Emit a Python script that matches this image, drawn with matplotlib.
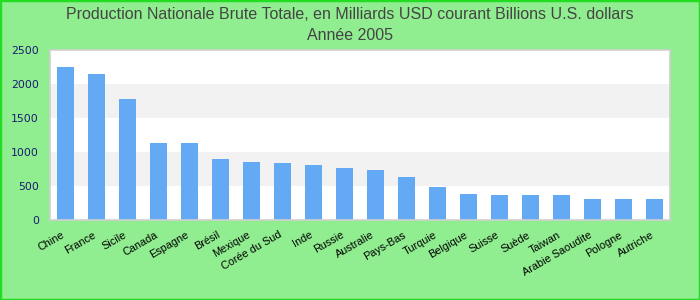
import matplotlib
matplotlib.use("Agg")
import matplotlib.pyplot as plt
import matplotlib.transforms as mtransforms
from matplotlib.patches import Rectangle

countries = ["Chine", "France", "Sicile", "Canada", "Espagne", "Brésil", "Mexique",
             "Corée du Sud", "Inde", "Russie", "Australie", "Pays-Bas", "Turquie",
             "Belgique", "Suisse", "Suède", "Taiwan", "Arabie Saoudite", "Pologne", "Autriche"]
values = [2250, 2150, 1780, 1130, 1130, 900, 850, 840, 810, 765, 735, 632, 485,
          382, 368, 368, 368, 309, 309, 309]
yticks = [0, 500, 1000, 1500, 2000, 2500]
title = "Production Nationale Brute Totale, en Milliards USD courant Billions U.S. dollars\nAnnée 2005"

fig = plt.figure(figsize=(7, 3), dpi=100, facecolor="#90ee90")
fig.patches.append(Rectangle((0, 0), 1, 1, transform=fig.transFigure, fill=False,
                             edgecolor="#22dd22", linewidth=2.5, zorder=10))
ax = fig.add_axes([50/700, 80/300, 620/700, 170/300])
ax.set_facecolor("white")
for lo, hi in [(500, 1000), (1500, 2000)]:
    ax.axhspan(lo, hi, color="#f2f2f2", zorder=0, linewidth=0)

x = range(len(countries))
ax.bar(x, values, width=0.55, color="#63a9f4", zorder=2)
ax.set_xlim(-0.5, len(countries) - 0.5)
ax.set_ylim(0, 2500)
ax.set_yticks(yticks)
ax.set_yticklabels([str(v) for v in yticks], color="#191970", fontsize=7.8)
ax.tick_params(axis="y", length=0, pad=8)
ax.set_xticks(list(x))
ax.set_xticklabels(countries, rotation=30, ha="right", rotation_mode="anchor",
                   fontsize=7.8, family="Liberation Sans", color="black")
ax.tick_params(axis="x", length=0, pad=7)
offset = mtransforms.ScaledTranslation(-4/100, 0, fig.dpi_scale_trans)
for lbl in ax.get_xticklabels():
    lbl.set_transform(lbl.get_transform() + offset)
for s in ax.spines.values():
    s.set_color("#d0d0d0")
    s.set_linewidth(1.2)

fig.text(0.5, 1 - 25/300, title, ha="center", va="center", fontsize=11.5,
         family="Liberation Sans", color="#444444", linespacing=1.5)

fig.savefig("out.png", dpi=100, facecolor=fig.get_facecolor())
